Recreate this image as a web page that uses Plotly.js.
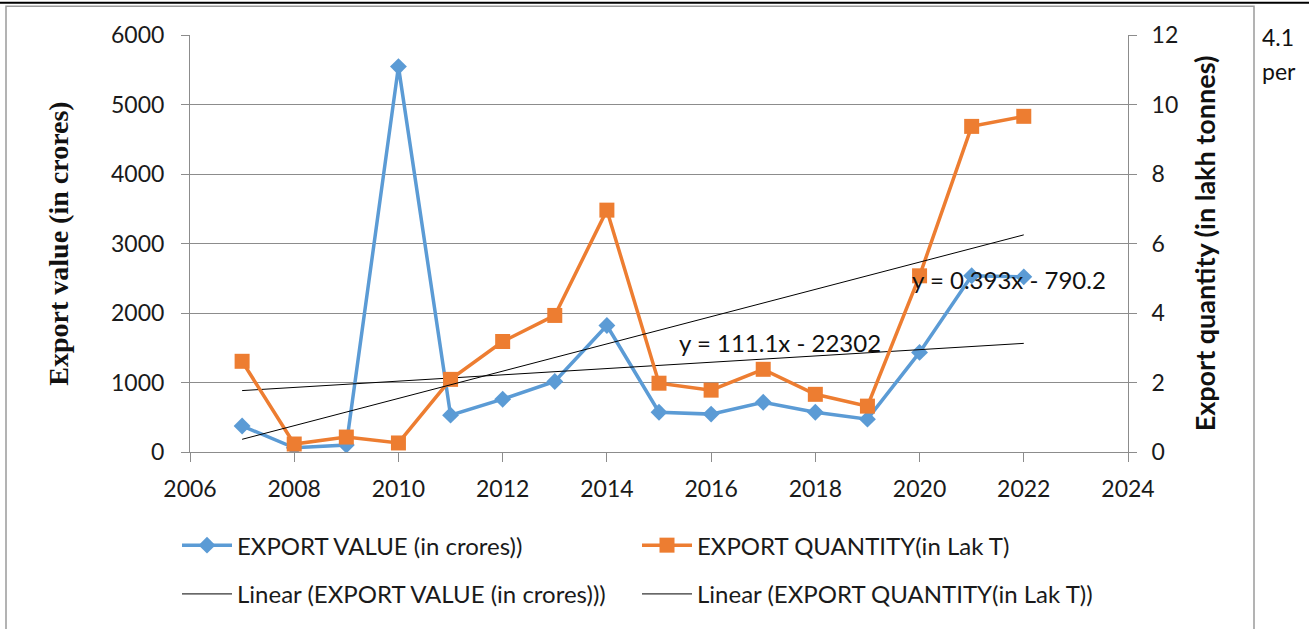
<!DOCTYPE html>
<html>
<head>
<meta charset="utf-8">
<script src="https://cdn.plot.ly/plotly-3.0.1.min.js"></script>
<style>
html,body{margin:0;padding:0;background:#fff;}
#chart{width:1309px;height:629px;}
</style>
</head>
<body>
<div id="chart"></div>
<script>
const years = [2007,2008,2009,2010,2011,2012,2013,2014,2015,2016,2017,2018,2019,2020,2021,2022];
const exportValue = [375,60,100,5545,530,760,1015,1820,573,545,716,573,473,1433,2536,2520];
const exportQuantity = [2.61,0.23,0.43,0.26,2.09,3.18,3.93,6.96,1.98,1.78,2.38,1.66,1.32,5.07,9.37,9.66];
const xTicks = [2006,2008,2010,2012,2014,2016,2018,2020,2022,2024];
const valueLabel = 'EXPORT VALUE (in crores))';
const qtyLabel = 'EXPORT QUANTITY(in Lak T)';
const valueTrendLabel = 'Linear (EXPORT VALUE (in crores)))';
const qtyTrendLabel = 'Linear (EXPORT QUANTITY(in Lak T))';
const valueEq = 'y = 111.1x - 22302';
const qtyEq = 'y = 0.393x - 790.2';

function linfit(xs, ys){
  const n = xs.length;
  const mx = xs.reduce((a,b)=>a+b,0)/n, my = ys.reduce((a,b)=>a+b,0)/n;
  let sxy=0, sxx=0;
  for(let i=0;i<n;i++){sxy+=(xs[i]-mx)*(ys[i]-my); sxx+=(xs[i]-mx)**2;}
  const m = sxy/sxx, b = my - m*mx;
  const ends = [xs[0], xs[n-1]];
  return {x: ends, y: ends.map(v=>m*v+b)};
}
const vFit = linfit(years, exportValue);
const qFit = linfit(years, exportQuantity);

const FONT = 'Lato, "Liberation Sans", sans-serif';
const BLUE = '#5B9BD5', ORANGE = '#ED7D31', GRID = '#8c8c8c';

// plot area in px: x 190..1128, y 35..454
const L=190, R=1128, T=35, B=454;
const px = v => (v-L)/(R-L);
const py = v => (B-v)/(B-T);

const traces = [
  {x: years, y: exportValue, name: valueLabel, type:'scatter', mode:'lines+markers',
   line:{color:BLUE, width:3.5}, marker:{symbol:'diamond', size:13, color:BLUE}, legend:'legend'},
  {x: years, y: exportQuantity, name: qtyLabel, type:'scatter', mode:'lines+markers', yaxis:'y2',
   line:{color:ORANGE, width:3.5}, marker:{symbol:'square', size:15, color:ORANGE}, legend:'legend'},
  {x: vFit.x, y: vFit.y, name: valueTrendLabel, type:'scatter', mode:'lines',
   line:{color:'#000', width:1}, legend:'legend2'},
  {x: qFit.x, y: qFit.y, name: qtyTrendLabel, type:'scatter', mode:'lines', yaxis:'y2',
   line:{color:'#000', width:1}, legend:'legend2'}
];

const tickFont = {family: FONT, size: 23, color:'#1a1a1a'};
const legendCommon = {orientation:'h', xanchor:'left', yanchor:'middle', itemwidth:50,
  entrywidth:395, font:{family:FONT, size:24, color:'#1a1a1a'}, bgcolor:'rgba(0,0,0,0)', traceorder:'normal'};

const layout = {
  width:1309, height:629,
  margin:{l:L, r:1309-R, t:T, b:629-B},
  paper_bgcolor:'#fff', plot_bgcolor:'#fff',
  showlegend:true,
  xaxis:{range:[2006,2024], tickvals:xTicks, ticktext:xTicks.map(String), showgrid:false, zeroline:false,
    showline:true, linecolor:GRID, linewidth:1, ticks:'outside', ticklen:9, tickcolor:GRID,
    tickfont:tickFont, ticklabelstandoff:7, fixedrange:true},
  yaxis:{range:[0,6000], dtick:1000, tick0:0, showgrid:true, gridcolor:GRID, gridwidth:1, zeroline:false,
    showline:true, linecolor:GRID, ticks:'outside', ticklen:8, tickcolor:GRID, tickfont:tickFont, ticklabelstandoff:12,
    title:{text:'<b>Export value (in crores)</b>', font:{family:'"Liberation Serif", "Times New Roman", serif', size:28, color:'#111'}, standoff:34}},
  yaxis2:{range:[0,12], dtick:2, tick0:0, overlaying:'y', side:'right', showgrid:false, zeroline:false,
    showline:true, linecolor:GRID, ticks:'outside', ticklen:8, tickcolor:GRID, tickfont:tickFont, ticklabelstandoff:10,
    title:{text:'<b>Export quantity (in lakh tonnes)</b>', font:{family:FONT, size:27, color:'#111'}, standoff:18}},
  legend: Object.assign({x:px(177), y:py(548)}, legendCommon),
  legend2: Object.assign({x:px(177), y:py(597)}, legendCommon),
  annotations:[
    {xref:'x', yref:'y', x:2015.35, y:1576, text:valueEq, showarrow:false, xanchor:'left', yanchor:'middle',
     font:{family:FONT, size:24, color:'#111'}},
    {xref:'x', yref:'y2', x:2019.82, y:4.95, text:qtyEq, showarrow:false, xanchor:'left', yanchor:'middle',
     font:{family:FONT, size:24, color:'#111'}},
    {xref:'paper', yref:'paper', x:px(1260), y:py(37), text:'4.1', showarrow:false, xanchor:'left', yanchor:'middle',
     font:{family:FONT, size:23, color:'#111'}},
    {xref:'paper', yref:'paper', x:px(1260), y:py(71), text:'per', showarrow:false, xanchor:'left', yanchor:'middle',
     font:{family:FONT, size:23, color:'#111'}}
  ],
  shapes:[
    {type:'line', xref:'paper', yref:'paper', x0:px(0), x1:px(1309), y0:py(2.5), y1:py(2.5), line:{color:'#000', width:2}},
    {type:'rect', xref:'paper', yref:'paper', x0:px(6), x1:px(1254), y0:py(6), y1:py(640), line:{color:'#9a9a9a', width:1.5}, fillcolor:'rgba(0,0,0,0)'}
  ]
};

Plotly.newPlot('chart', traces, layout, {displayModeBar:false, staticPlot:true});
</script>
</body>
</html>
